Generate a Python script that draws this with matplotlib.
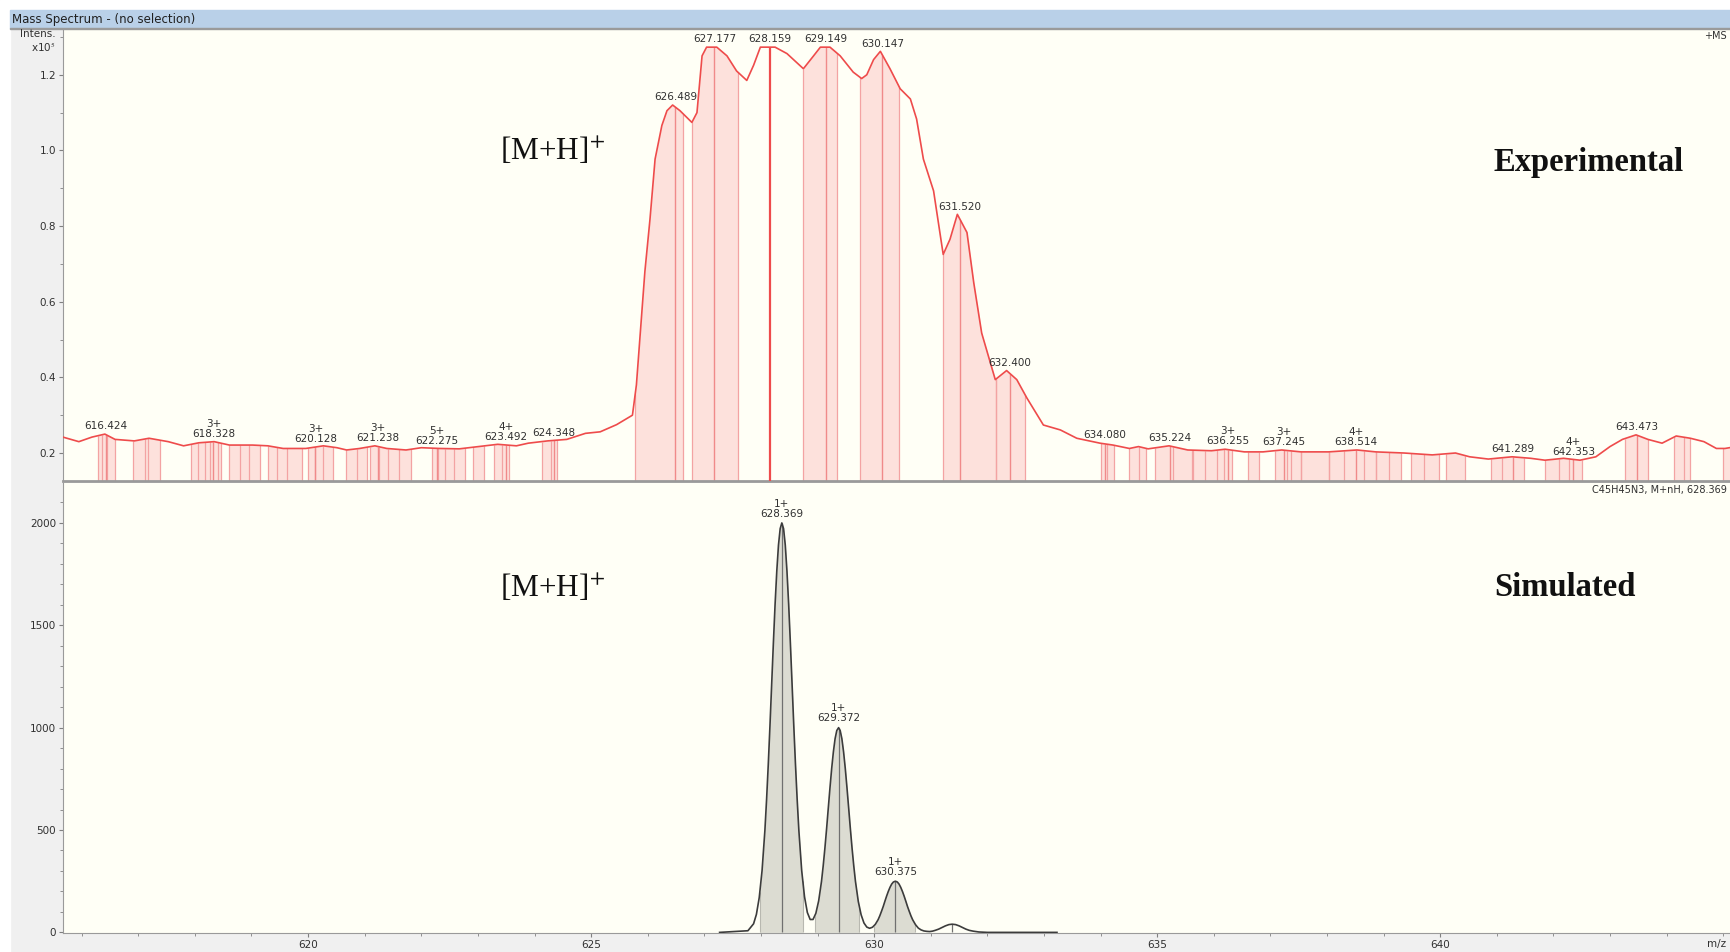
import numpy as np
import matplotlib
matplotlib.use("Agg")
import matplotlib.pyplot as plt
from matplotlib.patches import Rectangle

plt.rcParams['mathtext.fontset'] = 'stix'

# experimental profile, intensity in units of 1e5
exp_mz = [615.67, 615.95, 616.18, 616.41, 616.59, 616.93, 617.19, 617.53, 617.80, 618.07,
          618.34, 618.61, 619.02, 619.29, 619.56, 619.96, 620.27, 620.51, 620.68, 620.91,
          621.18, 621.39, 621.73, 622.00, 622.33, 622.67, 623.01, 623.35, 623.68, 623.89,
          624.23, 624.57, 624.90, 625.16, 625.45, 625.73, 625.80, 625.87, 625.95, 626.04,
          626.13, 626.25, 626.34, 626.44, 626.57, 626.78, 626.87, 626.96, 627.04, 627.22,
          627.40, 627.57, 627.75, 627.87, 627.99, 628.25, 628.46, 628.75, 628.93, 629.05,
          629.22, 629.40, 629.63, 629.78, 629.87, 629.99, 630.11, 630.28, 630.46, 630.64,
          630.75, 630.87, 631.05, 631.22, 631.34, 631.47, 631.64, 631.76, 631.90, 632.14,
          632.34, 632.52, 632.70, 632.99, 633.29, 633.58, 633.99, 634.22, 634.51, 634.67,
          634.84, 635.21, 635.54, 635.96, 636.20, 636.54, 636.87, 637.20, 637.54, 638.03,
          638.53, 638.86, 639.36, 639.86, 640.27, 640.52, 640.85, 641.27, 641.60, 641.85,
          642.18, 642.47, 642.75, 643.00, 643.22, 643.46, 643.67, 643.92, 644.17, 644.42,
          644.66, 644.88, 645.03, 645.15]
exp_int = [0.242, 0.230, 0.242, 0.250, 0.236, 0.232, 0.239, 0.230, 0.219, 0.227,
           0.230, 0.221, 0.221, 0.219, 0.212, 0.212, 0.219, 0.214, 0.208, 0.212,
           0.219, 0.212, 0.208, 0.214, 0.212, 0.211, 0.217, 0.223, 0.219, 0.226,
           0.232, 0.236, 0.252, 0.256, 0.275, 0.300, 0.380, 0.520, 0.680, 0.818,
           0.977, 1.066, 1.105, 1.120, 1.105, 1.074, 1.100, 1.250, 1.273, 1.273,
           1.250, 1.210, 1.185, 1.225, 1.273, 1.273, 1.256, 1.216, 1.250, 1.273,
           1.273, 1.250, 1.207, 1.190, 1.200, 1.240, 1.262, 1.216, 1.163, 1.136,
           1.083, 0.977, 0.893, 0.725, 0.765, 0.831, 0.783, 0.650, 0.517, 0.394,
           0.418, 0.394, 0.345, 0.274, 0.261, 0.239, 0.226, 0.221, 0.212, 0.217,
           0.211, 0.219, 0.208, 0.206, 0.210, 0.203, 0.203, 0.208, 0.203, 0.203,
           0.208, 0.203, 0.200, 0.195, 0.200, 0.190, 0.184, 0.190, 0.186, 0.181,
           0.186, 0.181, 0.190, 0.217, 0.236, 0.248, 0.236, 0.226, 0.245, 0.239,
           0.230, 0.212, 0.212, 0.215]

# integrated peak ranges (start, end) in m/z
exp_region_start = [616.28, 616.91, 617.93, 618.60, 619.29, 620.00, 620.67, 621.10, 622.19,
                    622.91, 623.28, 624.14, 625.78, 626.78, 628.75, 629.75, 631.22, 632.16,
                    634.01, 634.50, 634.97, 635.63, 636.60, 637.08, 637.54, 638.03, 638.86,
                    639.48, 640.10, 640.89, 641.85, 643.26, 644.13, 645.00]
exp_region_end = [616.59, 617.39, 618.46, 619.15, 619.89, 620.44, 621.04, 621.82, 622.77,
                  623.11, 623.55, 624.40, 626.63, 627.59, 629.34, 630.44, 632.16, 632.67,
                  634.24, 634.80, 635.61, 636.33, 636.80, 637.54, 638.03, 638.86, 639.31,
                  639.98, 640.44, 641.48, 642.51, 643.67, 644.42, 645.20]
exp_inner_lines = [616.36, 616.45, 617.12, 617.18, 618.05, 618.18, 618.26, 618.40, 618.80,
                   618.95, 619.45, 619.62, 620.12, 620.26, 620.86, 621.25, 621.42, 621.60,
                   622.30, 622.42, 622.58, 623.42, 624.30, 634.12, 634.68, 635.28, 635.85,
                   636.05, 636.18, 637.30, 637.36, 638.30, 638.65, 639.10, 639.72, 641.10,
                   642.10, 642.28, 644.30]

exp_label_mz = [616.424, 618.328, 620.128, 621.238, 622.275, 623.492, 624.348, 626.489,
                627.177, 628.159, 629.149, 630.147, 631.520, 632.400, 634.080, 635.224,
                636.255, 637.245, 638.514, 641.289, 642.353, 643.473]
exp_label_charge = ['', '3+', '3+', '3+', '5+', '4+', '', '', '', '', '', '', '', '',
                    '', '', '3+', '3+', '4+', '', '4+', '']

# simulated isotope pattern for C45H45N3, M+nH
sim_mz = [627.27, 627.77, 627.87, 627.92, 627.97, 628.02, 628.07, 628.10, 628.13, 628.16,
          628.19, 628.22, 628.25, 628.28, 628.31, 628.34, 628.369, 628.40, 628.43, 628.46,
          628.49, 628.52, 628.55, 628.58, 628.61, 628.64, 628.67, 628.72, 628.77, 628.82,
          628.87, 628.92, 628.97, 629.02, 629.07, 629.10, 629.13, 629.16, 629.19, 629.22,
          629.25, 629.28, 629.31, 629.34, 629.372, 629.40, 629.43, 629.46, 629.49, 629.52,
          629.55, 629.58, 629.61, 629.64, 629.67, 629.72, 629.77, 629.82, 629.87, 629.92,
          629.97, 630.02, 630.07, 630.10, 630.13, 630.16, 630.19, 630.22, 630.25, 630.28,
          630.31, 630.34, 630.375, 630.41, 630.44, 630.47, 630.50, 630.53, 630.56, 630.59,
          630.62, 630.65, 630.68, 630.73, 630.78, 630.83, 630.88, 630.93, 630.98, 631.03,
          631.08, 631.14, 631.20, 631.26, 631.32, 631.378, 631.44, 631.50, 631.56, 631.62,
          631.68, 631.75, 631.85, 632.00, 633.23]
sim_int = [0, 8, 42, 88, 170, 302, 498, 650, 822, 1012,
           1214, 1414, 1602, 1764, 1892, 1972, 2000, 1972, 1892, 1764,
           1602, 1414, 1214, 1012, 822, 650, 498, 302, 174, 97,
           63, 63, 93, 154, 249, 325, 411, 506, 607, 707,
           801, 882, 946, 986, 1000, 986, 946, 882, 801, 707,
           607, 506, 411, 325, 249, 151, 86, 46, 26, 20,
           25, 39, 62, 81, 103, 126, 152, 177, 200, 220,
           236, 246, 250, 246, 236, 220, 200, 177, 152, 126,
           103, 81, 62, 38, 21, 12, 7, 5, 4, 6,
           10, 16, 24, 32, 38, 40, 38, 32, 24, 16,
           10, 6, 2, 0, 0]
sim_region_start = [627.98, 628.95, 630.00]
sim_region_end = [628.74, 629.74, 630.72]
sim_peak_mz = [628.369, 629.372, 630.375, 631.378]
sim_label_mz = [628.369, 629.372, 630.375]

W, H = 1730, 952
RED = '#ee4b4b'
PINK = '#fde1dc'
LINE_PINK = '#f3a3a3'
BG = '#fffff6'
GRAY_TXT = '#303030'

fig = plt.figure(figsize=(W / 100, H / 100), dpi=100, facecolor='#f0f0f0')


def fig_rect(x0, y0, x1, y1, color):
    # rectangle given in pixel coordinates from the top-left corner
    fig.patches.append(Rectangle((x0 / W, 1 - y1 / H), (x1 - x0) / W, (y1 - y0) / H,
                                 transform=fig.transFigure, color=color, zorder=0))


def px(x, y):
    return x / W, 1 - y / H


fig_rect(0, 0, W, 10, 'white')
fig_rect(0, 0, 10, H, 'white')
fig_rect(10, 10, W, 28, '#b9d0e8')
fig_rect(10, 27.5, W, 29, '#9a9a9a')
fig.text(*px(12, 19), 'Mass Spectrum - (no selection)', fontsize=8.5,
         color='#202020', va='center', ha='left')

xlim = (615.67, 645.12)
ax1 = fig.add_axes([63 / W, 1 - 481 / H, (W - 63) / W, (481 - 29) / H])
ax2 = fig.add_axes([63 / W, 1 - 933 / H, (W - 63) / W, (933 - 483) / H])

for ax in (ax1, ax2):
    ax.set_facecolor(BG)
    ax.set_xlim(*xlim)
    ax.spines['right'].set_visible(False)
    for s in ('left', 'bottom', 'top'):
        ax.spines[s].set_color('#9a9a9a')
    ax.tick_params(which='both', direction='out', colors='#808080', labelcolor=GRAY_TXT,
                   labelsize=7.5, pad=2)
    ax.tick_params(which='major', length=3)
    ax.tick_params(which='minor', length=2)

# --- experimental spectrum ---
mz = np.array(exp_mz)
inten = np.array(exp_int)
ybot = 0.126
ax1.set_ylim(ybot, 1.321)
ax1.spines['bottom'].set_linewidth(2)
ax1.spines['top'].set_visible(False)
ax1.set_xticks([])
ax1.set_yticks([0.2, 0.4, 0.6, 0.8, 1.0, 1.2])
ax1.set_yticklabels(['0.2', '0.4', '0.6', '0.8', '1.0', '1.2'])
ax1.set_yticks([0.3, 0.5, 0.7, 0.9, 1.1, 1.3], minor=True)

for a, b in zip(exp_region_start, exp_region_end):
    xs = np.linspace(a, b, 40)
    ys = np.interp(xs, mz, inten)
    ax1.fill_between(xs, ybot, ys, color=PINK, lw=0, zorder=1)
    ax1.vlines([a, b], ybot, np.interp([a, b], mz, inten), color=LINE_PINK, lw=0.9, zorder=2)

for x in exp_inner_lines:
    ax1.vlines(x, ybot, np.interp(x, mz, inten), color=LINE_PINK, lw=0.9, zorder=2)

for x in exp_label_mz:
    if x == 628.159:
        ax1.vlines(x, ybot, np.interp(x, mz, inten), color=RED, lw=1.6, zorder=3)
    else:
        ax1.vlines(x, ybot, np.interp(x, mz, inten), color='#f08a8a', lw=1.0, zorder=2)

ax1.plot(mz, inten, color=RED, lw=1.2, zorder=4)

for x, ch in zip(exp_label_mz, exp_label_charge):
    near = (mz > x - 0.12) & (mz < x + 0.12)
    ytop = max(np.interp(x, mz, inten), inten[near].max() if near.any() else 0)
    txt = f'{ch}\n{x:.3f}' if ch else f'{x:.3f}'
    ax1.annotate(txt, (x, ytop), xytext=(0, 2), textcoords='offset points',
                 ha='center', va='bottom', fontsize=7.5, color=GRAY_TXT,
                 linespacing=1.0, zorder=5)

serif = 'Liberation Serif'
fig.text(*px(500, 151), '[M+H]$^{+}$', fontsize=22.5, family=serif,
         ha='left', va='center', color='#111111')
fig.text(*px(1494, 162), 'Experimental', fontsize=23.5, family=serif, weight='bold',
         ha='left', va='center', color='#111111')
fig.text(*px(1727, 36), '+MS', fontsize=7, ha='right', va='center', color=GRAY_TXT)

# --- simulated spectrum ---
smz = np.array(sim_mz)
sint = np.array(sim_int)
ax2.set_ylim(-3, 2195)
ax2.spines['top'].set_visible(False)
ax2.set_yticks([0, 500, 1000, 1500, 2000])
ax2.set_yticks(np.arange(100, 2200, 100), minor=True)
ax2.set_xticks([620, 625, 630, 635, 640])
ax2.set_xticks(np.arange(616, 646, 1), minor=True)

for a, b in zip(sim_region_start, sim_region_end):
    xs = np.linspace(a, b, 80)
    ax2.fill_between(xs, 0, np.interp(xs, smz, sint), color='#dcdcd2', lw=0, zorder=1)
    ax2.vlines([a, b], 0, np.interp([a, b], smz, sint), color='#b8b8b0', lw=0.8, zorder=2)

ax2.vlines(sim_peak_mz, 0, np.interp(sim_peak_mz, smz, sint), color='#707070', lw=0.9, zorder=2)
ax2.plot(smz, sint, color='#3c3c3c', lw=1.2, zorder=3)

for x in sim_label_mz:
    ax2.annotate(f'1+\n{x:.3f}', (x, np.interp(x, smz, sint)), xytext=(0, 3),
                 textcoords='offset points', ha='center', va='bottom', fontsize=7.5,
                 color=GRAY_TXT, linespacing=1.0, zorder=5)

fig.text(*px(500, 588), '[M+H]$^{+}$', fontsize=22.5, family=serif,
         ha='left', va='center', color='#111111')
fig.text(*px(1494, 588), 'Simulated', fontsize=23.5, family=serif, weight='bold',
         ha='left', va='center', color='#111111')
fig.text(*px(1727, 490), 'C45H45N3, M+nH, 628.369', fontsize=7, ha='right', va='center',
         color=GRAY_TXT)

fig.text(*px(56, 34), 'Intens.', fontsize=7.5, ha='right', va='center', color=GRAY_TXT)
fig.text(*px(56, 47), 'x10$^5$', fontsize=7.5, ha='right', va='center', color=GRAY_TXT)
fig.text(*px(1726, 944), 'm/z', fontsize=7.5, ha='right', va='center', color=GRAY_TXT)

fig.savefig('out.png', dpi=100, facecolor=fig.get_facecolor())
